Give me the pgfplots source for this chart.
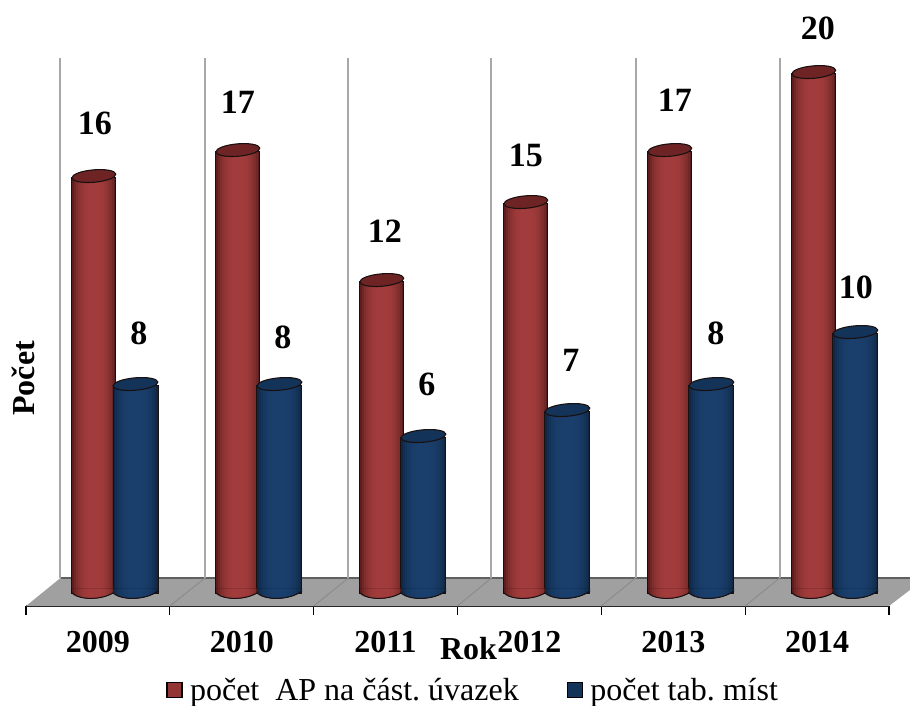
\documentclass[border=0pt]{standalone}
\usepackage{pgfplots}
\usepackage{pgfplotstable}
\usepackage{fontspec}
\pgfplotsset{compat=1.18}
\setmainfont{Liberation Serif}

\definecolor{redEdge}{HTML}{5A1E1E}
\definecolor{redMid}{HTML}{A23B3B}
\definecolor{redCap}{HTML}{6E2424}
\definecolor{blueEdge}{HTML}{0E2746}
\definecolor{blueMid}{HTML}{1A3F6C}
\definecolor{blueCap}{HTML}{143358}
\definecolor{rimLine}{HTML}{1A1010}
\definecolor{floorFill}{HTML}{A0A0A0}
\definecolor{floorLine}{HTML}{8C8C8C}
\definecolor{floorBack}{HTML}{606060}
\definecolor{wallLine}{HTML}{A8A8A8}

% Lower rim of a cylinder, built from the same colour bands as its body
\newcommand{\lowerRim}[3]{%
  \begin{scope}
    \clip (-#1pt,4pt) -- (-#1pt,0pt) .. controls (-14pt,-7.5pt) and (10pt,-7.5pt) .. (#1pt,2pt) -- (#1pt,4pt) -- cycle;
    \fill[#2] (-#1pt,-10pt) rectangle (#1pt,6pt);
    \foreach \w/\p in {20/30,18/50,16/65,14/77,12/86,10/92,8/96,6/100}
      {\fill[#3!\p!#2] (-\w pt,-10pt) rectangle (\w pt,6pt);}
  \end{scope}
  \path[draw=rimLine,line width=1pt]
    (-#1pt,0pt) .. controls (-14pt,-7.5pt) and (10pt,-7.5pt) .. (#1pt,2pt);}

% Cylinder ends: tilted top ellipse and lower rim
\pgfdeclareplotmark{capRed}{%
  \path[fill=redCap,draw=rimLine,line width=1.1pt]
    (0pt,1pt) ellipse[x radius=22pt,y radius=6.2pt,rotate=5];}
\pgfdeclareplotmark{capBlue}{%
  \path[fill=blueCap,draw=rimLine,line width=1.1pt]
    (0pt,1pt) ellipse[x radius=22.5pt,y radius=6.2pt,rotate=5];}
\pgfdeclareplotmark{baseRed}{\lowerRim{22}{redEdge}{redMid}}
\pgfdeclareplotmark{baseBlue}{\lowerRim{22.5}{blueEdge}{blueMid}}

% Columns: bar centre, value, label offsets (pt)
\pgfplotstableread{
x      y   dx  dy
-0.028 16  1   54
 0.973 17  0   49
 1.974 12  3   50
 2.975 15  0   48
 3.976 17  5   51
 4.977 20  4   45
}\redData
\pgfplotstableread{
x     y   dx  dy
0.261 8   3.5 52
1.262 8   3.5 48
2.263 6   3.5 53
3.264 7   3.5 51
4.265 8   4.5 52
5.266 10  0.5 46
}\blueData

\newcommand{\chartfont}{\fontsize{32}{36}\selectfont}

% One lengthwise colour band of the cylinders: data, width, colour
\newcommand{\band}[3]{\addplot[ybar,bar shift=0pt,bar width=#2pt,forget plot,
  fill=#3,draw=none] table[x=x,y=y] {#1};}
\newcommand{\outerBand}[3]{\addplot[ybar,bar shift=0pt,bar width=#2pt,forget plot,
  fill=#3,draw=rimLine,line width=0.9pt] table[x=x,y=y] {#1};}

\pgfplotsset{value labels/.style={draw=none,mark=none,forget plot,
  visualization depends on={\thisrow{dx}\as\dxval},
  visualization depends on={\thisrow{dy}\as\dyval},
  nodes near coords={\pgfmathprintnumber[assume math mode=true]{\pgfplotspointmeta}},
  every node near coord/.append style={font=\fontsize{34}{36}\selectfont\bfseries,
    anchor=center,inner sep=0pt,xshift=\dxval pt,yshift=\dyval pt}}}

\begin{document}
\begin{tikzpicture}[x=1pt,y=1pt]
\path[use as bounding box] (0,0) rectangle (910,706);
\begin{axis}[
  at={(26pt,100pt)}, anchor=south west,
  scale only axis, width=863pt, height=593pt,
  xmin=-0.5, xmax=5.5, ymin=-0.5, ymax=22.31,
  clip=false,
  axis x line=bottom, axis y line=left,
  x axis line style={-,line width=2.4pt,color=black!85},
  y axis line style={draw=none},
  ytick=\empty,
  xtick={0,1,2,3,4,5},
  xticklabels={2009,2010,2011,2012,2013,2014},
  minor xtick={-0.5,0.5,1.5,2.5,3.5,4.5,5.5},
  major tick length=0pt, minor tick length=9pt,
  tick align=outside,
  minor tick style={black,line width=1.2pt},
  xticklabel style={font=\chartfont\bfseries,inner sep=0pt,yshift=-25pt},
  xlabel={Rok},
  xlabel style={font=\chartfont\bfseries,anchor=center,
    at={(axis description cs:0.5127,-0.0725)}},
  ylabel={Počet},
  ylabel style={font=\chartfont\bfseries,anchor=center,rotate=0,
    at={(axis description cs:-0.0025,0.384)}},
  legend style={at={(axis description cs:0.1625,-0.1415)},anchor=west,
    draw=none,fill=none,legend columns=2,inner sep=0pt,
    font=\chartfont\frenchspacing,
    /tikz/every even column/.style={column sep=46pt},
    /tikz/every odd column/.style={column sep=5pt}},
  legend cell align=left,
]
% Floor of the plot area
\addplot[fill=floorFill,draw=none,forget plot] coordinates
  {(-0.5,-0.5) (5.5,-0.5) (5.645,0.115) (5.645,0.577) (-0.26,0.577)} -- cycle;
\addplot[floorBack,line width=1.2pt,forget plot] coordinates
  {(-0.26,0.577) (5.645,0.577)};
\addplot[floorLine,line width=1pt,forget plot] table[x=x,y=y] {
x y
0.5 -0.5
0.745 0.577

1.5 -0.5
1.742 0.577

2.5 -0.5
2.736 0.577

3.5 -0.5
3.738 0.577

4.5 -0.5
4.74 0.577
};
% Back wall grid lines
\addplot[wallLine,line width=2pt,forget plot] table[x=x,y=y] {
x y
-0.264 0.577
-0.264 20.58

0.745 0.577
0.745 20.58

1.742 0.577
1.742 20.58

2.736 0.577
2.736 20.58

3.738 0.577
3.738 20.58

4.74 0.577
4.74 20.58
};
% Red cylinders
\outerBand{\redData}{44}{redEdge}
\band{\redData}{40}{redMid!30!redEdge}
\band{\redData}{36}{redMid!50!redEdge}
\band{\redData}{32}{redMid!65!redEdge}
\band{\redData}{28}{redMid!77!redEdge}
\band{\redData}{24}{redMid!86!redEdge}
\band{\redData}{20}{redMid!92!redEdge}
\band{\redData}{16}{redMid!96!redEdge}
\band{\redData}{12}{redMid}
\addplot[only marks,mark=baseRed,forget plot] table[x=x,y expr=0] {\redData};
\addplot[only marks,mark=capRed,forget plot] table[x=x,y=y] {\redData};
% Blue cylinders
\outerBand{\blueData}{45}{blueEdge}
\band{\blueData}{41}{blueMid!30!blueEdge}
\band{\blueData}{37}{blueMid!50!blueEdge}
\band{\blueData}{33}{blueMid!65!blueEdge}
\band{\blueData}{29}{blueMid!77!blueEdge}
\band{\blueData}{25}{blueMid!86!blueEdge}
\band{\blueData}{21}{blueMid!92!blueEdge}
\band{\blueData}{17}{blueMid!96!blueEdge}
\band{\blueData}{13}{blueMid}
\addplot[only marks,mark=baseBlue,forget plot] table[x=x,y expr=0] {\blueData};
\addplot[only marks,mark=capBlue,forget plot] table[x=x,y=y] {\blueData};
% Value labels
\addplot[value labels] table[x=x,y=y] {\redData};
\addplot[value labels] table[x=x,y=y] {\blueData};
% Legend
\addlegendimage{legend image code/.code={
  \draw[fill=redMid!90!black,draw=black,line width=1.6pt] (0pt,-7.5pt) rectangle (15pt,7.5pt);}}
\addlegendentry{počet\ \ AP na část. úvazek}
\addlegendimage{legend image code/.code={
  \draw[fill=blueCap,draw=black,line width=1.6pt] (0pt,-7.5pt) rectangle (15pt,7.5pt);}}
\addlegendentry{počet tab. míst}
\end{axis}
\end{tikzpicture}
\end{document}
